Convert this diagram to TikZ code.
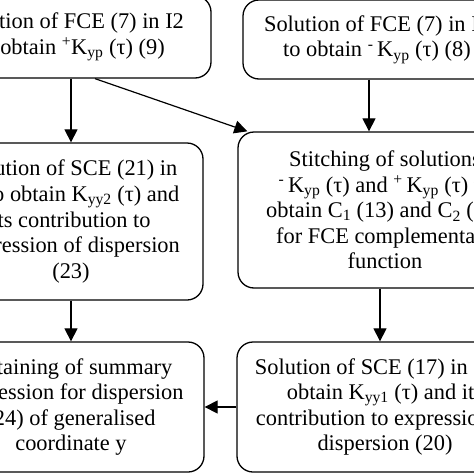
\documentclass[tikz,border=0pt]{standalone}
\usepackage{fontspec}
\setmainfont{Liberation Serif}
\usetikzlibrary{arrows.meta}
\newcommand{\Kyp}{K\textsubscript{yp}}

\begin{document}
\begin{tikzpicture}[x=1pt,y=-1pt,
    block/.style={draw,rounded corners=16pt,line width=1.3pt,align=center,inner sep=0pt,
      font=\fontsize{22.4}{25.6}\selectfont},
    flow/.style={-{Triangle[length=13pt,width=13pt]},line width=1.2pt}]
  \useasboundingbox (0,0) rectangle (474,474);
  \clip (0,0) rectangle (474,474);
  % first order equations
  \node[block,minimum width=280pt,minimum height=82pt] (fce_2) at (71,37)
    {Solution of FCE (7) in I2\\to obtain \textsuperscript{+}\Kyp{} (τ) (9)};
  \node[block,minimum width=268pt,minimum height=79pt] (fce_1) at (377,39.5)
    {Solution of FCE (7) in I1\\to obtain \textsuperscript{-}\,\Kyp{} (τ) (8)};
  % second order equations
  \node[block,minimum width=264pt,minimum height=157pt] (sce_2) at (71,221.5)
    {Solution of SCE (21) in\\I2 to obtain K\textsubscript{yy2} (τ) and\\its contribution to\\expression of dispersion\\(23)};
  \node[block,minimum width=294pt,minimum height=156pt] (stitch) at (385,210)
    {Stitching of solutions\\\textsuperscript{-}\,\Kyp{} (τ) and \textsuperscript{+}\,\Kyp{} (τ) to\\obtain C\textsubscript{1} (13) and C\textsubscript{2} (14)\\for FCE complementary\\function};
  \node[block,minimum width=266pt,minimum height=130pt] (summ) at (71,407)
    {Obtaining of summary\\expression for dispersion\\(24) of generalised\\coordinate y};
  \node[block,minimum width=296pt,minimum height=130pt] (sce_1) at (385,407)
    {Solution of SCE (17) in I1 to\\obtain K\textsubscript{yy1} (τ) and its\\contribution to expression of\\dispersion (20)};
  % connectors
  \draw[flow] (fce_2) -- (sce_2);
  \draw[flow] ([xshift=24pt]fce_2.south) -- ([xshift=10pt]stitch.north west);
  \draw[flow] ([xshift=-8pt]fce_1.south) -- ([xshift=-16pt]stitch.north);
  \draw[flow] ([xshift=-5pt]stitch.south) -- ([xshift=-5pt]sce_1.north);
  \draw[flow] (sce_2) -- (summ);
  \draw[flow] (sce_1) -- (summ);
\end{tikzpicture}
\end{document}
